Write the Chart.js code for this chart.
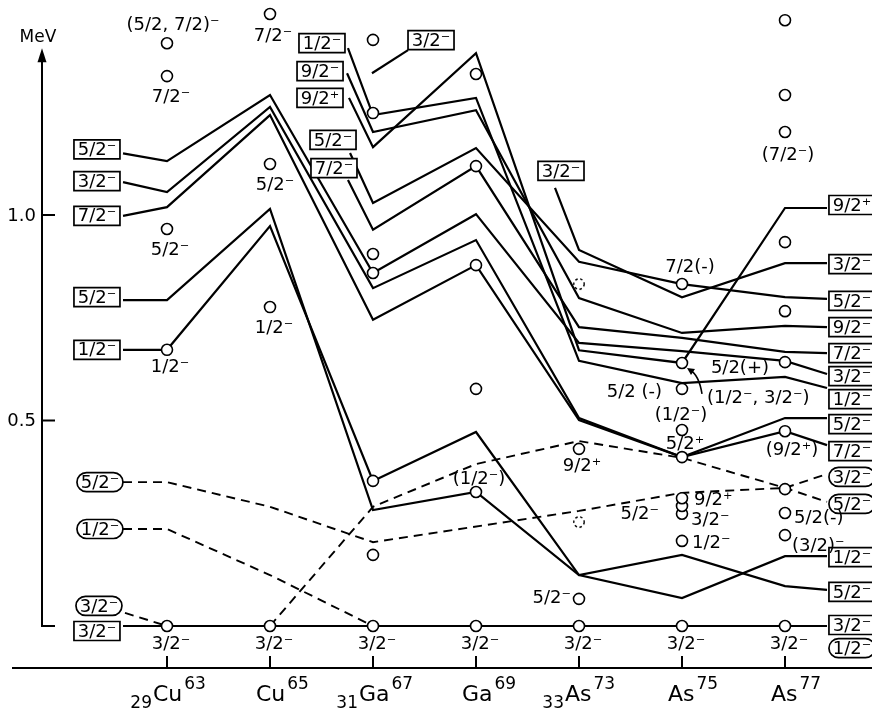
<!DOCTYPE html>
<html><head><meta charset="utf-8">
<script src="https://cdn.jsdelivr.net/npm/chart.js@4.4.1/dist/chart.umd.min.js"></script>
<style>html,body{margin:0;padding:0;background:#fff}#wrap{width:872px;height:711px;position:relative}</style>
</head><body><div id="wrap"><canvas id="c"></canvas></div>
<script>
// ---------- DATA ----------
const nucleusSymbol = ['Cu','Cu','Ga','Ga','As','As','As'];
const nucleusZ = ['29','','31','','33','',''];
const nucleusA = ['63','65','67','69','73','75','77'];

// experimental levels (MeV)
const expCu63 = [0, 0.672, 0.966, 1.338, 1.418];
const expCu65 = [0, 0.776, 1.124, 1.489];
const expGa67 = [0, 0.173, 0.353, 0.859, 0.905, 1.248, 1.426];
const expGa69 = [0, 0.326, 0.577, 0.878, 1.119, 1.343];
const expAs73 = [0, 0.066, 0.431];
const expAs73Tentative = [0.253, 0.832];
const expAs75 = [0, 0.207, 0.273, 0.292, 0.311, 0.411, 0.477, 0.577, 0.640, 0.832];
const expAs77 = [0, 0.221, 0.275, 0.333, 0.474, 0.642, 0.766, 0.934, 1.202, 1.292, 1.474];

const spinCu63 = ['3/2⁻','1/2⁻','5/2⁻','7/2⁻','(5/2, 7/2)⁻'];
const spinCu65 = ['3/2⁻','1/2⁻','5/2⁻','7/2⁻'];
const spinGa67 = ['3/2⁻','','','','','',''];
const spinGa69 = ['3/2⁻','(1/2⁻)','','','',''];
const spinAs73 = ['3/2⁻','5/2⁻','9/2⁺'];
const spinAs75 = ['3/2⁻','1/2⁻','3/2⁻','5/2⁻','9/2⁺','5/2⁺','(1/2⁻)','5/2 (-)','(1/2⁻, 3/2⁻)','7/2(-)'];
const spinAs77 = ['3/2⁻','(3/2)⁻','5/2(-)','','(9/2⁺)','5/2(+)','','','(7/2⁻)','',''];

// theoretical levels (MeV): label, Cu63, Cu65, Ga67, Ga69, As73, As75, As77, label
const thC1 = [1.150, 1.131, 1.292, 0.859, 1.002, 0.689, 0.669, 0.645, 0.613];
const thC2 = [1.080, 1.056, 1.263, 0.822, 0.939, 0.506, 0.411, 0.506, 0.506];
const thC3 = [0.998, 1.019, 1.243, 0.745, 0.878, 0.501, 0.411, 0.474, 0.440];
const thC4 = [0.793, 0.793, 1.015, 0.282, 0.326, 0.124, 0.173, 0.097, 0.088];
const thC5 = [0.672, 0.672, 0.973, 0.353, 0.472, 0.124, 0.068, 0.170, 0.170];
const thGround = [0, 0, 0, 0, 0, 0, 0, 0, 0];
// Ga-based lines: label, Ga67, Ga69, As73, As75, As77, label
const thG1 = [1.406, 1.243, 1.285, 0.645, 0.591, 0.606, 0.579];
const thG2 = [1.345, 1.202, 1.255, 0.798, 0.713, 0.730, 0.727];
const thG3 = [1.285, 1.165, 1.394, 0.671, 0.640, 1.017, 1.017];
const thG4 = [1.151, 1.029, 1.163, 0.886, 0.832, 0.800, 0.796];
const thG5 = [1.085, 0.964, 1.119, 0.727, 0.701, 0.667, 0.664];
const thGaLeader = [1.401, 1.345];
// As73 line: label, As73, As75, As77, label
const thA1 = [1.066, 0.915, 0.800, 0.883, 0.883];
// dashed lines
const thD1 = [0.350, 0.350, 0.290, 0.204, 0.280, 0.324, 0.336, 0.370]; // label,Cu63,Cu65,Ga67,As73,As75,As77,label
const thD2 = [0.236, 0.236, 0.124, 0];   // label,Cu63,Cu65,Ga67
const thD3 = [0.032, 0];                 // label,Cu63
const thD4 = [0, 0.290, 0.394, 0.450, 0.409, 0.336, 0.302]; // Cu65..As77,label
const loneRightLevel = -0.054;

const cuLeftLabels = ['5/2⁻','3/2⁻','7/2⁻','5/2⁻','1/2⁻','3/2⁻'];
const cuRightLabels = ['3/2⁻','5/2⁻','7/2⁻','5/2⁻','1/2⁻','3/2⁻'];
const gaLabels = ['1/2⁻','9/2⁻','9/2⁺','5/2⁻','7/2⁻'];
const gaLeaderLabel = '3/2⁻';
const as73Label = '3/2⁻';
const dashedLeftLabels = ['5/2⁻','1/2⁻','3/2⁻'];
const dashedRightLabels = ['3/2⁻','5/2⁻','1/2⁻'];
const yTicks = [0.5, 1.0];
const yTickLabels = ['0.5','1.0'];

// ---------- LAYOUT ----------
const X_MIN = -167/103, X_MAX = (872-167)/103;
const Y_MIN = (626-711)/411, Y_MAX = 626/411;
const X_LEFT = -0.427, X_RIGHT = 6.408, LEFT_BOX_X = -0.68, RIGHT_BOX_X = 6.65;
const CU_XS = [X_LEFT,0,1,2,3,4,5,6,X_RIGHT];
const GA_START_X = [1.757,1.748,1.767,1.777,1.757];
const LEADER_XS = [2.340,1.990];
const A1_XS = [3.767,4,5,6,X_RIGHT];
const D1_XS = [X_LEFT,0,1,2,4,5,6,X_RIGHT];
const D2_XS = [X_LEFT,0,1,2];
const D3_XS = [-0.408,0];
const D4_XS = [1,2,3,4,5,6,X_RIGHT];
const cuLeftDy = [-4,-1,0,-3,0,5], cuRightDy = [2,6,6,2,1,-1];
const gaStartOff = [[-26,-5],[-27,-2],[-29,0],[-17,-13],[-14,-12]], gaRightDy = [11,0,-3,2,0];
const posCu63 = [[4,18,'c'],[3,18,'c'],[3,21,'c'],[4,21,'c'],[6,-18,'c']];
const posCu65 = [[4,18,'c'],[4,21,'c'],[5,21,'c'],[3,22,'c']];
const posGa67 = [[4,18,'c']];
const posGa69 = [[4,18,'c'],[3,-13,'c']];
const posAs73 = [[4,18,'c'],[-8,-1,'r'],[3,17,'c']];
const posAs75 = [[4,18,'c'],[10,2,'l'],[9,7,'l'],[-23,8,'r'],[12,2,'l'],[3,-13,'c'],[-1,-15,'c'],[-20,3,'r'],[25,35,'l'],[8,-17,'c']];
const posAs77 = [[4,18,'c'],[7,11,'l'],[9,5,'l'],null,[7,19,'c'],[-16,6,'r'],null,null,[3,23,'c'],null,null];

const FONT = '"DejaVu Sans", sans-serif';
const pts = (xs, es) => xs.map((x,i)=>({x, y: es[i]}));

function lineDs(data, dashed){
  return {type:'scatter', data, showLine:true, borderColor:'#000', borderWidth: dashed?1.9:2.2,
    borderDash: dashed?[9,6]:[], pointRadius:0, fill:false, tension:0, order:2};
}
const datasets = [];
const cuLines = [thC1, thC2, thC3, thC4, thC5, thGround];
cuLines.forEach(l=>datasets.push(lineDs(pts(CU_XS,l),false)));
const gaLines = [thG1, thG2, thG3, thG4, thG5];
gaLines.forEach((l,i)=>datasets.push(lineDs(pts([GA_START_X[i],2,3,4,5,6,X_RIGHT],l),false)));
datasets.push(lineDs(pts(LEADER_XS, thGaLeader), false));
datasets.push(lineDs(pts(A1_XS, thA1), false));
datasets.push(lineDs(pts(D1_XS, thD1), true));
datasets.push(lineDs(pts(D2_XS, thD2), true));
datasets.push(lineDs(pts(D3_XS, thD3), true));
datasets.push(lineDs(pts(D4_XS, thD4), true));

const expAll = [expCu63, expCu65, expGa67, expGa69, expAs73, expAs75, expAs77];
const spinAll = [spinCu63, spinCu65, spinGa67, spinGa69, spinAs73, spinAs75, spinAs77];
const posAll = [posCu63, posCu65, posGa67, posGa69, posAs73, posAs75, posAs77];
expAll.forEach((arr,i)=>datasets.push({type:'scatter', data: arr.map(e=>({x:i,y:e})), pointRadius:5.5,
  pointBorderWidth:1.6, pointBackgroundColor:'#fff', pointBorderColor:'#000', showLine:false, order:0}));

// dotted circle style for tentative levels
const dc = document.createElement('canvas'); dc.width = 14; dc.height = 14;
{ const c = dc.getContext('2d'); c.strokeStyle='#000'; c.lineWidth=1.4; c.setLineDash([2.5,2.5]);
  c.beginPath(); c.arc(7,7,5.2,0,Math.PI*2); c.stroke(); }
datasets.push({type:'scatter', data: expAs73Tentative.map(e=>({x:4,y:e})), pointStyle: dc, pointRadius:7, showLine:false, order:0});

function box(ctx, cx, cy, text, rounded){
  const w = 46, h = 19;
  ctx.save();
  ctx.fillStyle='#fff'; ctx.strokeStyle='#000'; ctx.lineWidth=1.7;
  ctx.beginPath();
  if(rounded){ ctx.roundRect(cx-w/2, cy-h/2, w, h, 9.5); } else { ctx.rect(cx-w/2, cy-h/2, w, h); }
  ctx.fill(); ctx.stroke();
  ctx.fillStyle='#000'; ctx.font = '18px '+FONT; ctx.textAlign='center'; ctx.textBaseline='middle';
  ctx.fillText(text, cx, cy+1);
  ctx.restore();
}

const deco = {
  id:'deco',
  beforeDatasetsDraw(chart){
    const {ctx, scales:{x, y}} = chart;
    ctx.save(); ctx.strokeStyle='#000'; ctx.fillStyle='#000'; ctx.lineWidth=2;
    const ax = x.getPixelForValue(-1.2136), y0 = y.getPixelForValue(0), yTop = y.getPixelForValue(1.406);
    ctx.beginPath(); ctx.moveTo(ax+13, y0); ctx.lineTo(ax, y0); ctx.lineTo(ax, yTop+8); ctx.stroke();
    ctx.beginPath(); ctx.moveTo(ax, yTop); ctx.lineTo(ax-4.5, yTop+14); ctx.lineTo(ax+4.5, yTop+14); ctx.closePath(); ctx.fill();
    ctx.font = '18px '+FONT; ctx.textAlign='right'; ctx.textBaseline='middle';
    yTicks.forEach((v,i)=>{ const py=y.getPixelForValue(v); ctx.beginPath(); ctx.moveTo(ax,py); ctx.lineTo(ax+13,py); ctx.stroke(); ctx.fillText(yTickLabels[i], ax-6, py+1); });
    ctx.font = '17px '+FONT; ctx.textAlign='center'; ctx.fillText('MeV', ax-4, yTop-11);
    // bottom axis
    const by = y.getPixelForValue(-0.102);
    ctx.beginPath(); ctx.moveTo(12, by); ctx.lineTo(chart.width, by); ctx.stroke();
    for(let i=0;i<7;i++){
      const px = x.getPixelForValue(i);
      ctx.beginPath(); ctx.moveTo(px, by); ctx.lineTo(px, by-12); ctx.stroke();
      ctx.textBaseline='alphabetic';
      ctx.font='22px '+FONT; const sl = px-14; ctx.textAlign='left';
      ctx.fillText(nucleusSymbol[i], sl, by+33);
      const sw = ctx.measureText(nucleusSymbol[i]).width;
      ctx.font='17px '+FONT;
      ctx.fillText(nucleusA[i], sl+sw+2, by+21);
      if(nucleusZ[i]){ ctx.textAlign='right'; ctx.fillText(nucleusZ[i], sl-1, by+40); }
    }
    ctx.restore();
  },
  afterDatasetsDraw(chart){
    const {ctx, scales:{x, y}} = chart;
    const X = v=>x.getPixelForValue(v), Y = v=>y.getPixelForValue(v);
    cuLines.forEach((l,i)=>{
      box(ctx, X(LEFT_BOX_X), Y(l[0])+cuLeftDy[i], cuLeftLabels[i], false);
      box(ctx, X(RIGHT_BOX_X), Y(l[l.length-1])+cuRightDy[i], cuRightLabels[i], false);
    });
    gaLines.forEach((l,i)=>{
      box(ctx, X(GA_START_X[i])+gaStartOff[i][0], Y(l[0])+gaStartOff[i][1], gaLabels[i], false);
      box(ctx, X(RIGHT_BOX_X), Y(l[l.length-1])+gaRightDy[i], gaLabels[i], false);
    });
    box(ctx, X(LEADER_XS[0])+23, Y(thGaLeader[0])-10, gaLeaderLabel, false);
    box(ctx, X(A1_XS[0])+6, Y(thA1[0])-17, as73Label, false);
    box(ctx, X(RIGHT_BOX_X), Y(thA1[thA1.length-1])+1, as73Label, false);
    box(ctx, X(LEFT_BOX_X)+3, Y(thD1[0]), dashedLeftLabels[0], true);
    box(ctx, X(LEFT_BOX_X)+3, Y(thD2[0]), dashedLeftLabels[1], true);
    box(ctx, X(LEFT_BOX_X)+2, Y(thD3[0])-7, dashedLeftLabels[2], true);
    box(ctx, X(RIGHT_BOX_X), Y(thD1[thD1.length-1])+3, dashedRightLabels[0], true);
    box(ctx, X(RIGHT_BOX_X), Y(thD4[thD4.length-1])+2, dashedRightLabels[1], true);
    box(ctx, X(RIGHT_BOX_X), Y(loneRightLevel), dashedRightLabels[2], true);
    ctx.save(); ctx.fillStyle='#000'; ctx.font='18px '+FONT; ctx.textBaseline='middle';
    expAll.forEach((arr,n)=>{
      arr.forEach((e,k)=>{
        const t = spinAll[n][k]; const p = posAll[n][k];
        if(!t || !p) return;
        ctx.textAlign = p[2]==='c'?'center':(p[2]==='l'?'left':'right');
        ctx.fillText(t, X(n)+p[0], Y(e)+p[1]);
      });
    });
    const cx = X(5), cy = Y(expAs75[8]);
    ctx.strokeStyle='#000'; ctx.lineWidth=1.6;
    ctx.beginPath(); ctx.moveTo(cx+20, cy+31); ctx.quadraticCurveTo(cx+17, cy+12, cx+8, cy+7); ctx.stroke();
    ctx.beginPath(); ctx.moveTo(cx+5, cy+5); ctx.lineTo(cx+13, cy+6); ctx.lineTo(cx+9, cy+12); ctx.closePath(); ctx.fill();
    ctx.restore();
  }
};

new Chart(document.getElementById('c'), {
  type:'scatter',
  data:{datasets},
  options:{
    responsive:true, maintainAspectRatio:false, animation:false, events:[],
    layout:{padding:0, autoPadding:false},
    plugins:{legend:{display:false}, tooltip:{enabled:false}},
    scales:{
      x:{type:'linear', min:X_MIN, max:X_MAX, display:false},
      y:{type:'linear', min:Y_MIN, max:Y_MAX, display:false}
    }
  },
  plugins:[deco]
});
</script></body></html>
